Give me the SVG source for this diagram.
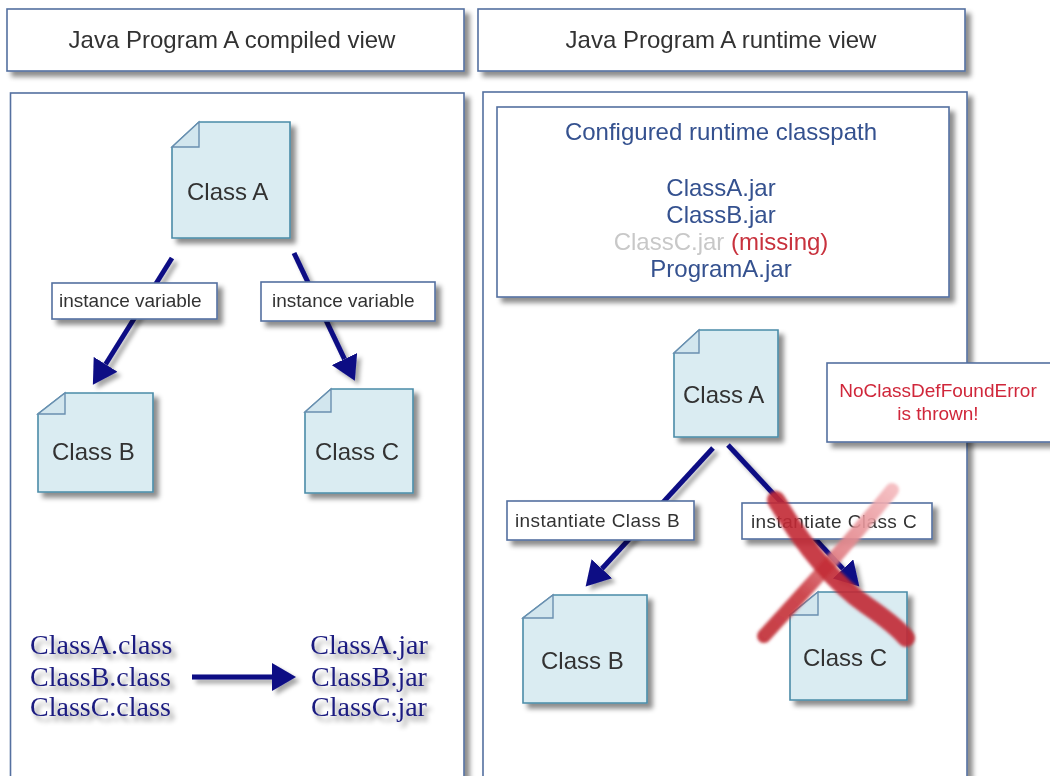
<svg xmlns="http://www.w3.org/2000/svg" width="1050" height="776" viewBox="0 0 1050 776">
  <defs>
    <filter id="sh" x="-10%" y="-10%" width="130%" height="140%">
      <feDropShadow dx="5" dy="5" stdDeviation="2.5" flood-color="#000" flood-opacity="0.45"/>
    </filter>
    <filter id="shs" x="-20%" y="-20%" width="150%" height="150%">
      <feDropShadow dx="4" dy="4" stdDeviation="2" flood-color="#000" flood-opacity="0.35"/>
    </filter>
    <filter id="tsh" x="-10%" y="-30%" width="130%" height="180%">
      <feDropShadow dx="4" dy="5" stdDeviation="2.5" flood-color="#000" flood-opacity="0.45"/>
    </filter>
    <filter id="blur" x="-20%" y="-20%" width="140%" height="140%">
      <feGaussianBlur stdDeviation="1.6"/>
    </filter>
    <marker id="ah" markerUnits="userSpaceOnUse" markerWidth="25" markerHeight="28" viewBox="0 0 25 28" refX="0" refY="14" orient="auto">
      <path d="M0,0 L24,14 L0,28 Z" fill="#0c0c84"/>
    </marker>
    <linearGradient id="xg" gradientUnits="userSpaceOnUse" x1="892" y1="488" x2="762" y2="640">
      <stop offset="0" stop-color="#f4b8bc"/>
      <stop offset="0.45" stop-color="#e07a80"/>
      <stop offset="0.7" stop-color="#c8343c"/>
      <stop offset="1" stop-color="#c02a32"/>
    </linearGradient>
  </defs>
  <style>
    .box{fill:#fff;stroke:#5470a0;stroke-width:1.6}
    .cls{fill:#daecf2;stroke:#4a8ca8;stroke-width:1.6}
    .fold{fill:#d2e6ee;stroke:#6a8fb0;stroke-width:1.4}
    .title{font-family:"Liberation Sans",Arial,sans-serif;font-size:24px;fill:#333}
    .cn{font-family:"Liberation Sans",Arial,sans-serif;font-size:24px;fill:#333}
    .lbl{font-family:"Liberation Sans",Arial,sans-serif;font-size:19px;fill:#333}
    .cp{font-family:"Liberation Sans",Arial,sans-serif;font-size:24px;fill:#34518f;text-anchor:middle}
    .err{font-family:"Liberation Sans",Arial,sans-serif;font-size:19px;fill:#d0283a;text-anchor:middle}
    .tm{font-family:"Liberation Serif","Times New Roman",serif;font-size:28px;fill:#1c1c80}
    .ar{stroke:#0c0c84;stroke-width:5;fill:none}
  </style>

  <!-- panels -->
  <g id="title-compiled" filter="url(#sh)">
    <rect class="box" x="7" y="9" width="457" height="62"/>
    <text class="title" x="232" y="48" text-anchor="middle">Java Program A compiled view</text>
  </g>
  <g id="title-runtime" filter="url(#sh)">
    <rect class="box" x="478" y="9" width="487" height="62"/>
    <text class="title" x="721" y="48" text-anchor="middle">Java Program A runtime view</text>
  </g>
  <g id="panel-compiled" filter="url(#sh)">
    <rect class="box" x="10.5" y="93" width="453.5" height="720"/>
  </g>
  <g id="panel-runtime" filter="url(#sh)">
    <rect class="box" x="483" y="92" width="484" height="720"/>
  </g>

  <g id="classpath" filter="url(#sh)">
    <rect class="box" x="497" y="107" width="452" height="190"/>
    <text class="cp" x="721" y="140">Configured runtime classpath</text>
    <text class="cp" x="721" y="196">ClassA.jar</text>
    <text class="cp" x="721" y="223">ClassB.jar</text>
    <text class="cp" x="721" y="250"><tspan fill="#c8c8c8">ClassC.jar</tspan> <tspan fill="#c8303c">(missing)</tspan></text>
    <text class="cp" x="721" y="277">ProgramA.jar</text>
  </g>

  <!-- class nodes -->
  <g id="c-classA" filter="url(#sh)">
    <path class="cls" d="M199,122 H290 V238 H172 V147 Z"/>
    <path class="fold" d="M172,147 L199,122 V147 Z"/>
    <text class="cn" x="187" y="200">Class A</text>
  </g>
  <g id="c-classB" filter="url(#sh)">
    <path class="cls" d="M65,393 H153 V492 H38 V414 Z"/>
    <path class="fold" d="M38,414 L65,393 V414 Z"/>
    <text class="cn" x="52" y="460">Class B</text>
  </g>
  <g id="c-classC" filter="url(#sh)">
    <path class="cls" d="M331,389 H413 V493 H305 V412 Z"/>
    <path class="fold" d="M305,412 L331,389 V412 Z"/>
    <text class="cn" x="315" y="460">Class C</text>
  </g>
  <g id="r-classA" filter="url(#sh)">
    <path class="cls" d="M699,330 H778 V437 H674 V353 Z"/>
    <path class="fold" d="M674,353 L699,330 V353 Z"/>
    <text class="cn" x="683" y="403">Class A</text>
  </g>
  <g id="r-classB" filter="url(#sh)">
    <path class="cls" d="M553,595 H647 V703 H523 V618 Z"/>
    <path class="fold" d="M523,618 L553,595 V618 Z"/>
    <text class="cn" x="541" y="669">Class B</text>
  </g>
  <g id="r-classC" filter="url(#sh)">
    <path class="cls" d="M818,592 H907 V700 H790 V615 Z"/>
    <path class="fold" d="M790,615 L818,592 V615 Z"/>
    <text class="cn" x="803" y="666">Class C</text>
  </g>

  <!-- connectors -->
  <g id="connectors" filter="url(#shs)">
    <line class="ar" x1="172" y1="258" x2="105.6" y2="364.3" marker-end="url(#ah)"/>
    <line class="ar" x1="294" y1="253" x2="344.5" y2="359.1" marker-end="url(#ah)"/>
    <line class="ar" x1="713" y1="448" x2="601.9" y2="568.8" marker-end="url(#ah)"/>
    <line class="ar" x1="728" y1="445" x2="843" y2="568.9" marker-end="url(#ah)"/>
    <line class="ar" x1="192" y1="677" x2="272" y2="677" marker-end="url(#ah)"/>
  </g>

  <!-- connector labels -->
  <g id="lbl-iv1" filter="url(#sh)">
    <rect class="box" x="52" y="283" width="165" height="36"/>
    <text class="lbl" x="59" y="307">instance variable</text>
  </g>
  <g id="lbl-iv2" filter="url(#sh)">
    <rect class="box" x="261" y="282" width="174" height="39"/>
    <text class="lbl" x="272" y="307">instance variable</text>
  </g>
  <g id="lbl-instB" filter="url(#sh)">
    <rect class="box" x="507" y="501" width="187" height="39"/>
    <text class="lbl" x="515" y="527" letter-spacing="0.4">instantiate Class B</text>
  </g>
  <g id="lbl-instC" filter="url(#sh)">
    <rect class="box" x="742" y="503" width="190" height="36"/>
    <text class="lbl" x="751" y="528" letter-spacing="0.4">instantiate Class C</text>
  </g>

  <!-- compiled files -->
  <g id="class-files" filter="url(#tsh)">
    <text class="tm" x="30" y="654">ClassA.class</text>
    <text class="tm" x="30" y="686">ClassB.class</text>
    <text class="tm" x="30" y="716">ClassC.class</text>
  </g>
  <g id="jar-files" filter="url(#tsh)">
    <text class="tm" x="369" y="654" text-anchor="middle">ClassA.jar</text>
    <text class="tm" x="369" y="686" text-anchor="middle">ClassB.jar</text>
    <text class="tm" x="369" y="716" text-anchor="middle">ClassC.jar</text>
  </g>

  <!-- error callout -->
  <g id="error" filter="url(#sh)">
    <rect class="box" x="827" y="363" width="235" height="79"/>
    <text class="err" x="938" y="397">NoClassDefFoundError</text>
    <text class="err" x="938" y="420">is thrown!</text>
  </g>

  <!-- red cross -->
  <g id="cross" filter="url(#blur)" stroke-linecap="round" fill="none">
    <path d="M892,490 C860,530 820,575 764,636" stroke="url(#xg)" stroke-width="14" opacity="0.9"/>
    <path d="M776,500 C800,540 830,580 866,605 C885,618 898,628 906,638" stroke="#c22a33" stroke-width="18" opacity="0.9"/>
  </g>
</svg>
